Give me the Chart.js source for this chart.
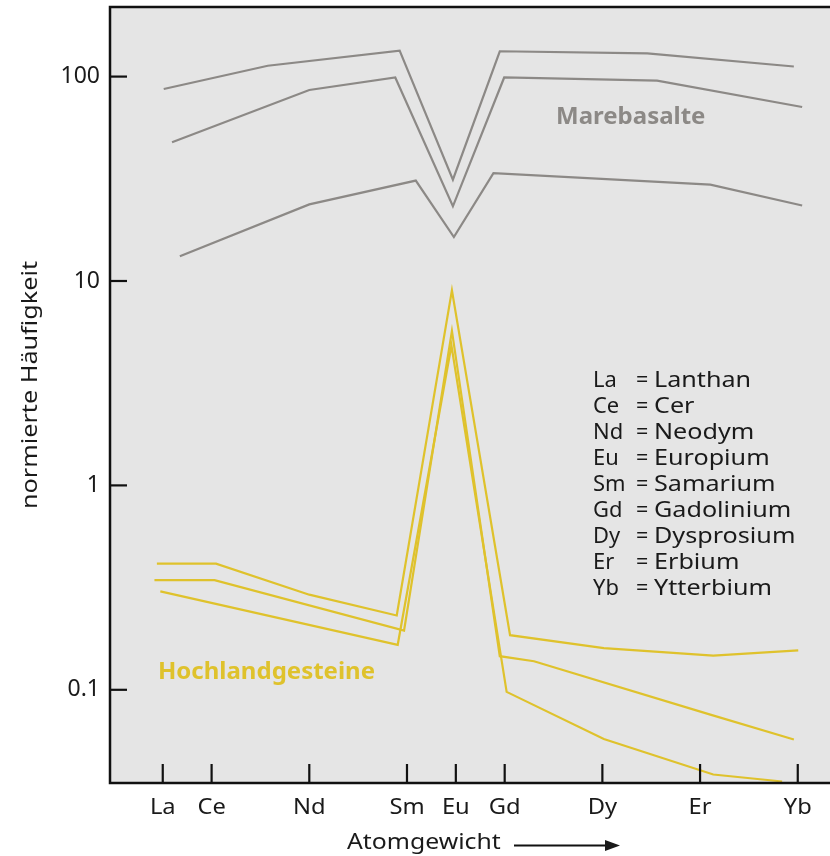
<!DOCTYPE html>
<html>
<head>
<meta charset="utf-8">
<script src="https://cdn.jsdelivr.net/npm/chart.js@4"></script>
<style>
	body { margin: 0; background: #ffffff; }
	#chart { display: block; }
</style>
</head>
<body>
<canvas id="chart" width="830" height="856"></canvas>
<script>
// elements on the x axis (by atomic number)
const elements = ['La', 'Ce', 'Nd', 'Sm', 'Eu', 'Gd', 'Dy', 'Er', 'Yb'];
const atomicNumbers = [57, 58, 60, 62, 63, 64, 66, 68, 70];
const yTicks = [0.1, 1, 10, 100];

// legend box (order as printed)
const legendAbbr = ['La', 'Ce', 'Nd', 'Eu', 'Sm', 'Gd', 'Dy', 'Er', 'Yb'];
const legendNames = ['Lanthan', 'Cer', 'Neodym', 'Europium', 'Samarium', 'Gadolinium', 'Dysprosium', 'Erbium', 'Ytterbium'];

// Marebasalte : [atomic number, normalized abundance]
const mare1 = [[57.02, 87], [59.15, 113], [61.85, 134], [62.94, 31.3], [63.9, 133], [66.92, 130], [69.92, 112]];
const mare2 = [[57.19, 47.7], [60.0, 86], [61.76, 99], [62.94, 23.2], [63.99, 99], [67.12, 95.6], [70.09, 71]];
const mare3 = [[57.35, 13.2], [60.0, 23.7], [62.18, 31], [62.96, 16.4], [63.77, 33.7], [68.21, 29.6], [70.09, 23.4]];

// Hochlandgesteine
const hoch1 = [[56.88, 0.414], [58.09, 0.414], [60.0, 0.292], [61.79, 0.231], [62.92, 9.0], [64.11, 0.185], [66.03, 0.160], [68.27, 0.147], [70.01, 0.156]];
const hoch2 = [[56.83, 0.344], [58.06, 0.344], [61.94, 0.195], [62.92, 5.7], [63.9, 0.146], [64.6, 0.138], [68.21, 0.0756], [69.92, 0.0571]];
const hoch3 = [[56.95, 0.303], [61.81, 0.166], [62.91, 4.83], [64.04, 0.0977], [66.03, 0.0575], [68.27, 0.0385], [69.68, 0.0356]];

const grey = '#8c8986';
const yellow = '#dfc22c';
const font = '"Noto Sans", "Open Sans", sans-serif';

function toPoints(arr) {
	return arr.map(p => ({ x: p[0], y: p[1] }));
}

function makeSet(label, arr, color) {
	return {
		label: label,
		data: toPoints(arr),
		borderColor: color,
		borderWidth: 2.2,
		pointRadius: 0,
		tension: 0,
		borderJoinStyle: 'miter',
		fill: false
	};
}

// text is a bit wider in the original, so stretch it horizontally
function wideText(ctx, text, x, y, align, sx) {
	ctx.save();
	ctx.translate(x, y);
	ctx.scale(sx, 1);
	ctx.textAlign = align;
	ctx.fillText(text, 0, 0);
	ctx.restore();
}

const framePlugin = {
	id: 'frame',
	beforeDraw(chart) {
		const a = chart.chartArea;
		const ctx = chart.ctx;
		ctx.save();
		ctx.fillStyle = '#e5e5e5';
		ctx.fillRect(a.left, a.top, a.right - a.left, a.bottom - a.top);
		ctx.restore();
	},
	afterDraw(chart) {
		const a = chart.chartArea;
		const ctx = chart.ctx;
		const xs = chart.scales.x;
		const ys = chart.scales.y;
		ctx.save();
		ctx.strokeStyle = '#111';
		ctx.fillStyle = '#1a1a1a';

		// frame: top, left, bottom (no right border)
		ctx.lineWidth = 2.5;
		ctx.beginPath();
		ctx.moveTo(a.right, a.top);
		ctx.lineTo(a.left, a.top);
		ctx.lineTo(a.left, a.bottom);
		ctx.lineTo(a.right, a.bottom);
		ctx.stroke();

		// y ticks (inside) + labels
		ctx.lineWidth = 2.2;
		ctx.font = '23px ' + font;
		ctx.textAlign = 'right';
		ctx.textBaseline = 'middle';
		ys.ticks.forEach(t => {
			const py = ys.getPixelForValue(t.value);
			ctx.beginPath();
			ctx.moveTo(a.left, py);
			ctx.lineTo(a.left + 17, py);
			ctx.stroke();
			ctx.fillText(String(t.value), a.left - 10, py);
		});

		// x ticks (inside) + element labels
		ctx.font = '21px ' + font;
		ctx.textBaseline = 'alphabetic';
		xs.ticks.forEach(t => {
			const px = xs.getPixelForValue(t.value);
			ctx.beginPath();
			ctx.moveTo(px, a.bottom - 19);
			ctx.lineTo(px, a.bottom);
			ctx.stroke();
			const i = atomicNumbers.indexOf(t.value);
			wideText(ctx, elements[i], px, 814, 'center', 1.13);
		});

		// x title with arrow
		wideText(ctx, 'Atomgewicht', 347, 849, 'left', 1.18);
		ctx.lineWidth = 2;
		ctx.beginPath();
		ctx.moveTo(514, 845.5);
		ctx.lineTo(608, 845.5);
		ctx.stroke();
		ctx.beginPath();
		ctx.moveTo(620, 845.5);
		ctx.lineTo(605, 840);
		ctx.lineTo(605, 851);
		ctx.closePath();
		ctx.fill();

		// y title
		ctx.save();
		ctx.translate(31, 385);
		ctx.rotate(-Math.PI / 2);
		ctx.textBaseline = 'middle';
		wideText(ctx, 'normierte Häufigkeit', 0, 0, 'center', 1.2);
		ctx.restore();

		// element legend
		ctx.font = '21.5px ' + font;
		ctx.textBaseline = 'middle';
		legendAbbr.forEach((ab, i) => {
			const py = 381 + i * 26;
			wideText(ctx, ab, 593, py, 'left', 1.02);
			wideText(ctx, '=', 636, py, 'left', 1.0);
			wideText(ctx, legendNames[i], 654, py, 'left', 1.17);
		});

		// group labels
		ctx.font = 'bold 24px ' + font;
		ctx.textAlign = 'left';
		ctx.fillStyle = grey;
		ctx.fillText('Marebasalte', 556, 117);
		ctx.fillStyle = yellow;
		ctx.fillText('Hochlandgesteine', 158, 672);

		ctx.restore();
	}
};

new Chart(document.getElementById('chart'), {
	type: 'line',
	data: {
		datasets: [
			makeSet('Marebasalte 1', mare1, grey),
			makeSet('Marebasalte 2', mare2, grey),
			makeSet('Marebasalte 3', mare3, grey),
			makeSet('Hochlandgesteine 1', hoch1, yellow),
			makeSet('Hochlandgesteine 2', hoch2, yellow),
			makeSet('Hochlandgesteine 3', hoch3, yellow)
		]
	},
	options: {
		responsive: false,
		animation: false,
		devicePixelRatio: 1,
		layout: { padding: { top: 7, right: 0, bottom: 0, left: 0 } },
		plugins: {
			legend: { display: false },
			tooltip: { enabled: false }
		},
		scales: {
			x: {
				type: 'linear',
				bounds: 'data',
				min: 55.92,
				max: 70.66,
				grid: { display: false },
				border: { display: false },
				ticks: { display: false },
				afterBuildTicks: scale => { scale.ticks = atomicNumbers.map(v => ({ value: v })); },
				afterFit: scale => { scale.height = 73; }
			},
			y: {
				type: 'logarithmic',
				bounds: 'data',
				min: 0.035,
				max: 219,
				grid: { display: false },
				border: { display: false },
				ticks: { display: false },
				afterBuildTicks: scale => { scale.ticks = yTicks.map(v => ({ value: v })); },
				afterFit: scale => { scale.width = 110; }
			}
		}
	},
	plugins: [framePlugin]
});
</script>
</body>
</html>
